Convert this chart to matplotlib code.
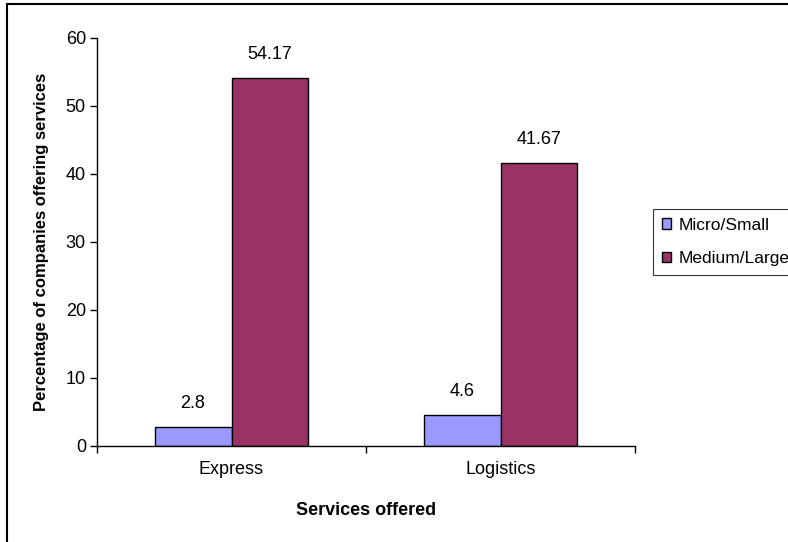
import matplotlib
matplotlib.use('Agg')
import matplotlib.pyplot as plt
import numpy as np
from matplotlib.patches import Rectangle

plt.rcParams['font.family'] = ['Liberation Sans', 'DejaVu Sans']

services = ['Express', 'Logistics']
micro_small = [2.8, 4.6]
medium_large = [54.17, 41.67]
series_names = ['Micro/Small', 'Medium/Large']
y_ticks = [0, 10, 20, 30, 40, 50, 60]

W, H = 788, 542
fig = plt.figure(figsize=(W / 100, H / 100), dpi=100)
ax = fig.add_axes([97 / W, 1 - 446 / H, (635 - 97) / W, (446 - 38) / H])

x = np.arange(len(services))
width = 0.286
b1 = ax.bar(x, micro_small, width=-width, align='edge', color='#9999FF',
            edgecolor='black', linewidth=1, label=series_names[0])
b2 = ax.bar(x, medium_large, width=width, align='edge', color='#993366',
            edgecolor='black', linewidth=1, label=series_names[1])

for bars, vals in ((b1, micro_small), (b2, medium_large)):
    for rect, v in zip(bars, vals):
        ax.annotate(f'{v:g}', (rect.get_x() + rect.get_width() / 2, v),
                    xytext=(0, 23), textcoords='offset pixels',
                    ha='center', va='center', fontsize=13)

ax.set_xlim(-0.5, len(services) - 0.5)
ax.set_ylim(0, 60)
ax.set_yticks(y_ticks)
ax.tick_params(axis='y', direction='out', length=5, width=1, labelsize=13, pad=3)

# category boundaries get the tick marks, centres get the labels
ax.set_xticks(np.arange(len(services) + 1) - 0.5)
ax.set_xticklabels([])
ax.set_xticks(x, minor=True)
ax.set_xticklabels(services, minor=True, fontsize=13)
ax.tick_params(axis='x', which='major', direction='out', length=5, width=1)
ax.tick_params(axis='x', which='minor', length=0, pad=11)

for side in ('top', 'right'):
    ax.spines[side].set_visible(False)
for side in ('left', 'bottom'):
    ax.spines[side].set_linewidth(1)

ax.set_xlabel('Services offered', fontsize=13, fontweight='bold', labelpad=17)
ax.set_ylabel('Percentage of companies offering services', fontsize=12,
              fontweight='bold', labelpad=12)

leg = fig.legend(handles=[b1, b2], loc='upper left',
                 bbox_to_anchor=(653 / W, 1 - 209 / H), borderaxespad=0,
                 fontsize=12.5, frameon=True, fancybox=False,
                 handlelength=0.55, handleheight=0.55, handletextpad=0.45,
                 labelspacing=1.05, borderpad=0.5)
leg.get_frame().set_edgecolor('black')
leg.get_frame().set_linewidth(0.8)

# outer chart border
fig.add_artist(Rectangle((7 / W, -0.05), 1.2, 1 - 4 / H + 0.05,
                         transform=fig.transFigure, fill=False,
                         edgecolor='black', linewidth=1.5, clip_on=False))

fig.savefig('out.png', dpi=100)
